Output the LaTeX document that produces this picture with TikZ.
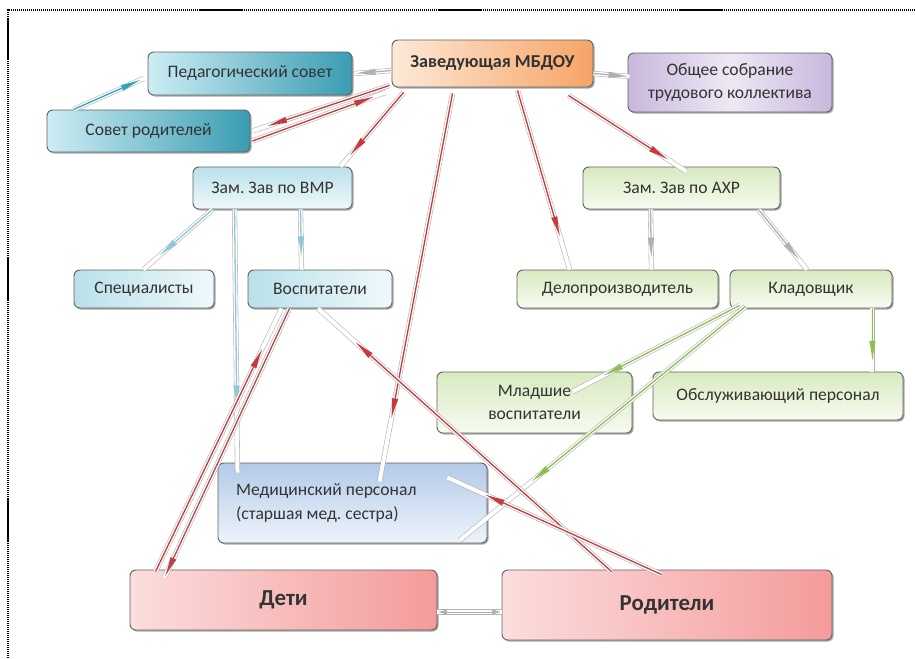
\documentclass[tikz,border=0pt]{standalone}
\usepackage{fontspec}
\setmainfont{Carlito}
\usetikzlibrary{calc,shadows,arrows.meta}
\definecolor{tealA}{HTML}{CDEDF4}
\definecolor{tealB}{HTML}{3A9CB2}
\definecolor{lbA}{HTML}{B9E0EA}
\definecolor{lbB}{HTML}{F0F9FB}
\definecolor{orA}{HTML}{FDE9D8}
\definecolor{orB}{HTML}{F6A465}
\definecolor{viA}{HTML}{C8B8DD}
\definecolor{viB}{HTML}{EEE8F5}
\definecolor{grA}{HTML}{D8EAC0}
\definecolor{grB}{HTML}{F7FBF0}
\definecolor{mdA}{HTML}{B3CAE8}
\definecolor{mdB}{HTML}{EEF4FB}
\definecolor{pkA}{HTML}{FCDDDD}
\definecolor{pkB}{HTML}{F49B9B}
\definecolor{redL}{HTML}{C8393B}
\definecolor{tealL}{HTML}{2FA5BB}
\definecolor{lbL}{HTML}{8CC9DA}
\definecolor{grL}{HTML}{8CC04F}
\definecolor{gyL}{HTML}{B0B0B0}
\newcommand\conar[4]{\draw[conn] #1 -- #2; \draw[ctip=#3] #1 -- ($#1!#4!#2$);}
\frenchspacing
\begin{document}
\begin{tikzpicture}[x=0.03cm,y=-0.03cm,
  box/.style={rectangle, rounded corners=5pt, draw=black!62, line width=0.8pt,
    inner sep=0pt, align=center, text=black!80,
    font=\fontsize{15}{18}\selectfont,
    drop shadow={shadow xshift=1.3pt, shadow yshift=-1.3pt, opacity=0.35, fill=black}},
  sz/.style 2 args={minimum width=#1*0.03cm, minimum height=#2*0.03cm},
  conn/.style={draw=black!30, double=white, double distance=3.4pt, line width=0.5pt},
  ctip/.style={draw=#1, line width=1.1pt, -{Latex[length=18pt,width=5.5pt]}},
  cboth/.style={draw=#1, line width=0.8pt, {Latex[length=8pt,width=4.5pt]}-{Latex[length=8pt,width=4.5pt]}},
]
\useasboundingbox (0,0) rectangle (915,658);
\draw[line width=1.6pt, dash pattern=on 1pt off 0.7pt] (8,658) -- (8,10) -- (915,10);

% nodes
\node[box, sz={204}{43}, left color=tealA, right color=tealB] (ped) at (250,73.5) {Педагогический совет};
\node[box, sz={203}{42}, left color=tealA, right color=tealB] (sr) at (148.5,131) {Совет родителей};
\node[box, sz={201}{47}, left color=orA, right color=orB, font=\bfseries\fontsize{15.5}{18}\selectfont] (zav) at (492.5,63.5) {Заведующая МБДОУ};
\node[box, sz={204}{59}, left color=viA, right color=viA, middle color=viB, font=\fontsize{15}{19}\selectfont] (obs) at (730,82.5) {Общее собрание\\трудового коллектива};
\node[box, sz={159}{42}, top color=lbA, bottom color=lbB] (vmr) at (272.5,188) {Зам. Зав по ВМР};
\node[box, sz={197}{42}, top color=grA, bottom color=grB] (ahr) at (681.5,188) {Зам. Зав по АХР};
\node[box, sz={140}{38}, left color=lbA, right color=lbB] (spec) at (144,289) {Специалисты};
\node[box, sz={144}{38}, left color=lbA, right color=lbB] (vosp) at (320,289) {Воспитатели};
\node[box, sz={201}{38}, top color=grA, bottom color=grB] (delo) at (617.5,289) {Делопроизводитель};
\node[box, sz={162}{38}, top color=grA, bottom color=grB] (klad) at (811,289) {Кладовщик};
\node[box, sz={195}{61}, top color=grA, bottom color=grB, font=\fontsize{15}{19}\selectfont] (mlad) at (534.5,402.5) {Младшие\\воспитатели};
\node[box, sz={250}{48}, top color=grA, bottom color=grB] (obsl) at (778,396) {Обслуживающий персонал};
\node[box, sz={269}{80}, top color=mdA, bottom color=mdB, align=flush left,
  text width=233*0.03cm, inner xsep=18*0.03cm, font=\fontsize{15}{21}\selectfont] (med) at (352.5,503) {Медицинский персонал\\(старшая мед. сестра)};
\node[box, sz={307}{60}, left color=pkA, right color=pkB, font=\bfseries\fontsize{19.5}{22}\selectfont] (deti) at (283.5,600) {Дети};
\node[box, sz={330}{70}, left color=pkA, right color=pkB, font=\bfseries\fontsize{19.5}{22}\selectfont] (rod) at (667,605) {Родители};

% connector end points
\coordinate (c1a) at ($(sr.north west)+(27,0)$);
\coordinate (c1b) at ($(ped.south west)+(-4,-17)$);
\coordinate (c2a) at ($(zav.west)+(0,7)$);
\coordinate (c2b) at ($(ped.east)+(2,0)$);
\coordinate (c3a) at ($(zav.south west)+(-2,-2)$);
\coordinate (c3b) at ($(sr.east)+(2,0)$);
\coordinate (c3c) at ($(sr.east)+(2,10)$);
\coordinate (c3d) at ($(zav.south west)+(-6,5)$);
\coordinate (c4a) at ($(zav.south west)+(12,5)$);
\coordinate (c4b) at ($(vmr.north east)+(-12,0)$);
\coordinate (c5a) at ($(zav.south)+(-40,6)$);
\coordinate (c5b) at ($(med.north west)+(162,19)$);
\coordinate (c6a) at ($(zav.south)+(25,3)$);
\coordinate (c6b) at ($(delo.north west)+(53,0)$);
\coordinate (c7a) at ($(zav.south east)+(-25,8)$);
\coordinate (c7b) at ($(ahr.north)+(5,5)$);
\coordinate (c8a) at ($(zav.east)+(0,10)$);
\coordinate (c8b) at ($(obs.west)+(2,-6)$);
\coordinate (c9a) at ($(vmr.south west)+(20,0)$);
\coordinate (c9b) at ($(spec.north west)+(70,0)$);
\coordinate (c10a) at ($(vmr.south west)+(108,0)$);
\coordinate (c10b) at ($(vosp.north west)+(54,0)$);
\coordinate (c11a) at ($(vmr.south west)+(42,0)$);
\coordinate (c11b) at ($(med.north west)+(20,10)$);
\coordinate (c12a) at ($(ahr.south west)+(68,0)$);
\coordinate (c12b) at ($(delo.north east)+(-67,0)$);
\coordinate (c13a) at ($(ahr.south east)+(-22,0)$);
\coordinate (c13b) at ($(klad.north)+(-4,0)$);
\coordinate (c14a) at ($(klad.south west)+(10,-3)$);
\coordinate (c14b) at ($(mlad.north west)+(136,20)$);
\coordinate (c15a) at ($(klad.south west)+(16,-2)$);
\coordinate (c15b) at ($(med.south east)+(-28,-3)$);
\coordinate (c16a) at ($(klad.south east)+(-20,0)$);
\coordinate (c16b) at ($(obsl.north east)+(-31,0)$);
\coordinate (c17a) at ($(rod.north west)+(110,2)$);
\coordinate (c17b) at ($(vosp.south)+(-2,0)$);
\coordinate (c18a) at ($(rod.north west)+(160,5)$);
\coordinate (c18b) at ($(med.north east)+(-40,15)$);
\coordinate (c19a) at ($(deti.north west)+(26,2)$);
\coordinate (c19b) at ($(vosp.south west)+(34,0)$);
\coordinate (c19c) at ($(vosp.south west)+(42,0)$);
\coordinate (c19d) at ($(deti.north west)+(35,8)$);
\coordinate (c20a) at ($(deti.east)+(0,12)$);
\coordinate (c20b) at ($(rod.west)+(0,7)$);

% connectors
\conar{(c1a)}{(c1b)}{tealL}{0.97}
\conar{(c2a)}{(c2b)}{gyL}{1}
\conar{(c3a)}{(c3b)}{redL}{0.9}
\conar{(c3c)}{(c3d)}{redL}{0.92}
\conar{(c4a)}{(c4b)}{redL}{0.86}
\conar{(c5a)}{(c5b)}{redL}{0.84}
\conar{(c6a)}{(c6b)}{redL}{0.82}
\conar{(c7a)}{(c7b)}{redL}{0.85}
\conar{(c8a)}{(c8b)}{gyL}{1}
\conar{(c9a)}{(c9b)}{lbL}{0.78}
\conar{(c10a)}{(c10b)}{lbL}{0.8}
\conar{(c11a)}{(c11b)}{lbL}{0.75}
\conar{(c12a)}{(c12b)}{gyL}{0.82}
\conar{(c13a)}{(c13b)}{gyL}{0.85}
\conar{(c14a)}{(c14b)}{grL}{0.82}
\conar{(c15a)}{(c15b)}{grL}{0.75}
\conar{(c16a)}{(c16b)}{grL}{0.85}
\conar{(c17a)}{(c17b)}{redL}{0.875}
\conar{(c18a)}{(c18b)}{redL}{0.83}
\conar{(c19a)}{(c19b)}{redL}{0.85}
\conar{(c19c)}{(c19d)}{red!45!gray}{1}
\draw[conn] (c20a) -- (c20b);
\draw[cboth=gyL] (c20a) -- (c20b);
\end{tikzpicture}
\end{document}
